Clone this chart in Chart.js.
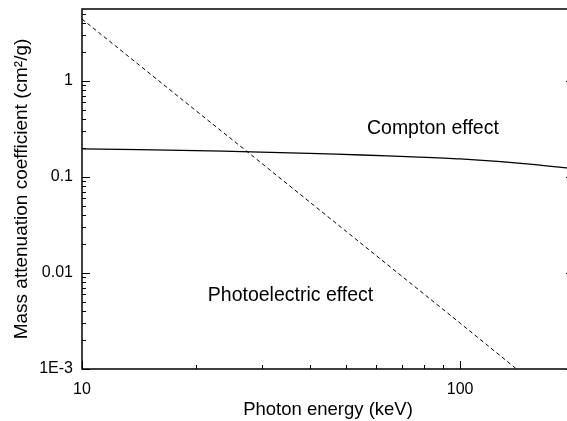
<!DOCTYPE html>
<html>
<head>
<meta charset="utf-8">
<script src="https://cdn.jsdelivr.net/npm/chart.js@4"></script>
<style>
    html, body { margin: 0; padding: 0; background: #fff; overflow: hidden; }
    #wrap { width: 567px; height: 421px; overflow: hidden; }
</style>
</head>
<body>
<div id="wrap"><canvas id="attChart" width="574" height="421"></canvas></div>
<script>
// values (keV, cm2/g)
const comptonEnergy = [10, 20, 28, 40, 55, 75, 100, 150, 200];
const comptonCoeff = [0.196, 0.188, 0.182, 0.176, 0.169, 0.162, 0.154, 0.137, 0.122];
const photoEnergy = [10, 20, 28, 50, 100, 141];
const photoCoeff = [4.4, 0.49, 0.17, 0.027, 0.003, 0.001];

const xTickValues = [10, 100];
const yTickValues = [0.001, 0.01, 0.1, 1];
const yTickLabels = ['1E-3', '0.01', '0.1', '1'];

const notes = [
    { text: 'Compton effect', x: 84.7, y: 0.316 },
    { text: 'Photoelectric effect', x: 35.6, y: 0.00575 }
];

const FONT = 'Liberation Sans, Arial, sans-serif';

function toPoints(xs, ys) {
    return xs.map((x, i) => ({ x: x, y: ys[i] }));
}

// inward ticks, frame and text notes
const framePlugin = {
    id: 'frame',
    afterDraw(chart) {
        const ctx = chart.ctx;
        const area = chart.chartArea;
        const xs = chart.scales.x;
        const ys = chart.scales.y;
        ctx.save();
        ctx.strokeStyle = '#000';
        ctx.lineWidth = 1.5;
        ctx.beginPath();
        ctx.moveTo(area.left, area.top);
        ctx.lineTo(area.right, area.top);
        ctx.lineTo(area.right, area.bottom);
        ctx.lineTo(area.left, area.bottom);
        ctx.closePath();
        ctx.stroke();

        ctx.lineWidth = 1;
        ctx.beginPath();
        for (let d = 1; d <= 2; d++) {
            for (let m = 1; m <= 9; m++) {
                const v = m * Math.pow(10, d);
                if (v < xs.min || v > xs.max) continue;
                const px = Math.round(xs.getPixelForValue(v)) + 0.5;
                const len = m === 1 ? 8 : 4;
                ctx.moveTo(px, area.bottom);
                ctx.lineTo(px, area.bottom - len);
            }
        }
        for (let d = -3; d <= 0; d++) {
            for (let m = 1; m <= 9; m++) {
                const v = m * Math.pow(10, d);
                if (v < ys.min || v > ys.max) continue;
                const py = Math.round(ys.getPixelForValue(v)) + 0.5;
                const len = m === 1 ? 8 : 4;
                ctx.moveTo(area.left, py);
                ctx.lineTo(area.left + len, py);
                ctx.moveTo(area.right, py);
                ctx.lineTo(area.right - len, py);
            }
        }
        ctx.stroke();

        ctx.fillStyle = '#000';
        ctx.font = '19.5px ' + FONT;
        ctx.textAlign = 'center';
        ctx.textBaseline = 'middle';
        notes.forEach(n => {
            ctx.fillText(n.text, xs.getPixelForValue(n.x), ys.getPixelForValue(n.y));
        });
        ctx.restore();
    }
};

const config = {
    type: 'line',
    data: {
        datasets: [
            {
                label: 'Compton effect',
                data: toPoints(comptonEnergy, comptonCoeff),
                borderColor: '#000',
                borderWidth: 1.3,
                pointRadius: 0,
                tension: 0.3,
                fill: false
            },
            {
                label: 'Photoelectric effect',
                data: toPoints(photoEnergy, photoCoeff),
                borderColor: '#000',
                borderWidth: 1,
                borderDash: [4, 3],
                pointRadius: 0,
                tension: 0,
                fill: false
            }
        ]
    },
    options: {
        responsive: false,
        animation: false,
        layout: { padding: { left: 0, top: 9, right: 0, bottom: 0 } },
        plugins: {
            legend: { display: false },
            tooltip: { enabled: false }
        },
        scales: {
            x: {
                type: 'logarithmic',
                min: 10,
                max: 200,
                afterFit: (scale) => {
                    scale.height = 52;
                    scale.paddingLeft = 0;
                    scale.paddingRight = 0;
                },
                afterBuildTicks: (scale) => { scale.ticks = xTickValues.map(v => ({ value: v })); },
                grid: { display: false, drawTicks: false },
                border: { display: false },
                ticks: {
                    autoSkip: false,
                    maxRotation: 0,
                    padding: 11,
                    color: '#000',
                    font: { family: FONT, size: 16 },
                    callback: (v) => String(v)
                },
                title: {
                    display: true,
                    text: 'Photon energy (keV)',
                    color: '#000',
                    font: { family: FONT, size: 18.5 },
                    padding: { top: 3, bottom: 0 }
                }
            },
            y: {
                type: 'logarithmic',
                min: 0.001,
                max: 5.6,
                afterFit: (scale) => {
                    scale.width = 82;
                    scale.paddingTop = 0;
                    scale.paddingBottom = 0;
                },
                afterBuildTicks: (scale) => { scale.ticks = yTickValues.map(v => ({ value: v })); },
                grid: { display: false, drawTicks: false },
                border: { display: false },
                ticks: {
                    autoSkip: false,
                    padding: 9,
                    color: '#000',
                    font: { family: FONT, size: 16 },
                    callback: (v) => yTickLabels[yTickValues.indexOf(v)]
                },
                title: {
                    display: true,
                    text: 'Mass attenuation coefficient (cm²/g)',
                    color: '#000',
                    font: { family: FONT, size: 19 },
                    padding: { top: 10, bottom: 0 }
                }
            }
        }
    },
    plugins: [framePlugin]
};

const canvas = document.getElementById('attChart');
const ctx = canvas.getContext('2d');
const chartInstance = new Chart(ctx, config);
</script>
</body>
</html>
